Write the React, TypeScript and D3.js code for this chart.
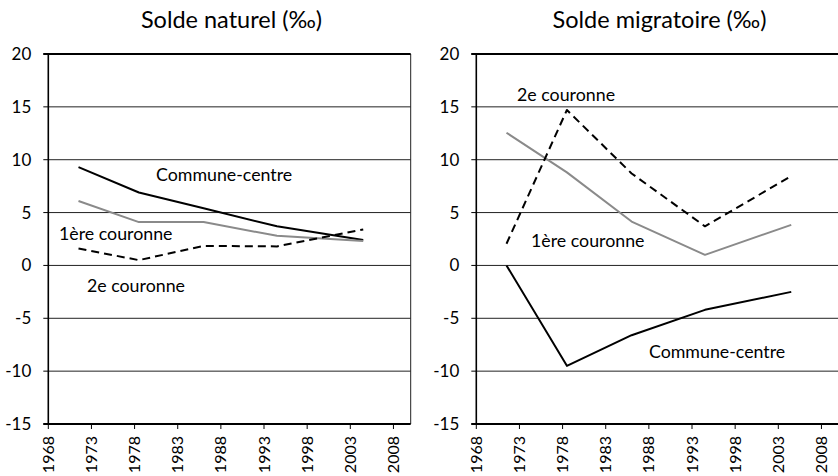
import React from "react";
import * as d3 from "d3";

// Period midpoints (census intervals)
const periods = [1971.5, 1978.5, 1986, 1994.5, 2004.5];

const naturelCentre = [9.3, 6.9, 5.4, 3.7, 2.4];
const naturel1ere = [6.1, 4.1, 4.1, 2.8, 2.3];
const naturel2e = [1.6, 0.5, 1.85, 1.8, 3.4];

const migrCentre = [0, -9.5, -6.6, -4.2, -2.5];
const migr1ere = [12.55, 8.8, 4.15, 1.0, 3.84];
const migr2e = [2.05, 14.7, 8.7, 3.7, 8.45];

const yearTicks = [1968, 1973, 1978, 1983, 1988, 1993, 1998, 2003, 2008];
const valueTicks = [20, 15, 10, 5, 0, -5, -10, -15];

const seriesNames = ["Commune-centre", "1ère couronne", "2e couronne"];

// label anchors in data units: [year, value]
const naturelLabels: [number, number][] = [
  [1980.48, 8.56],
  [1969.24, 2.97],
  [1972.48, -1.95],
];
const migrLabels: [number, number][] = [
  [1988.01, -8.19],
  [1974.34, 2.31],
  [1972.72, 16.12],
];

const FONT = "Lato, 'Open Sans', sans-serif";

type PanelProps = {
  title: string;
  left: number;
  series: number[][];
  labels: [number, number][];
};

const styles = [
  { stroke: "#000", dash: undefined as string | undefined },
  { stroke: "#8a8a8a", dash: undefined as string | undefined },
  { stroke: "#000", dash: "8,5" },
];

function Panel({ title, left, series, labels }: PanelProps) {
  const width = 362.4;
  const x = d3.scaleLinear().domain([1968, 2010]).range([left, left + width]);
  const y = d3.scaleLinear().domain([-15, 20]).range([424, 54]);
  const line = d3
    .line<[number, number]>()
    .x((d) => x(d[0]))
    .y((d) => y(d[1]));

  return (
    <g>
      <text
        x={left + width / 2 + 2}
        y={28}
        textAnchor="middle"
        fontFamily={FONT}
        fontSize={23.5}
        fill="#000"
      >
        {title}
      </text>
      {/* gridlines */}
      {valueTicks
        .filter((v) => v !== 20 && v !== -15)
        .map((v) => (
          <line
            key={"g" + v}
            x1={x(1968)}
            x2={x(2010)}
            y1={y(v)}
            y2={y(v)}
            stroke="#222"
            strokeWidth={1}
          />
        ))}
      {/* frame */}
      <line x1={x(2010)} x2={x(2010)} y1={y(20)} y2={y(-15)} stroke="#222" strokeWidth={1} />
      <line x1={x(1968) - 5} x2={x(2010)} y1={y(20)} y2={y(20)} stroke="#000" strokeWidth={1.8} />
      {/* y ticks */}
      {valueTicks.map((v) => (
        <g key={"yt" + v}>
          <line x1={x(1968) - 5} x2={x(1968)} y1={y(v)} y2={y(v)} stroke="#000" strokeWidth={1} />
          <text
            x={x(1968) - 17}
            y={y(v)}
            dy="0.35em"
            textAnchor="end"
            fontFamily={FONT}
            fontSize={17}
            fill="#000"
          >
            {v}
          </text>
        </g>
      ))}
      {/* x ticks */}
      {yearTicks.map((t) => (
        <g key={"xt" + t}>
          <line x1={x(t)} x2={x(t)} y1={y(-15)} y2={y(-15) + 5} stroke="#000" strokeWidth={1} />
          <text
            transform={`translate(${x(t)},${436}) rotate(-90)`}
            dy="0.35em"
            textAnchor="end"
            fontFamily={FONT}
            fontSize={16}
            fill="#000"
          >
            {t}
          </text>
        </g>
      ))}
      <line x1={x(1968)} x2={x(1968)} y1={y(20)} y2={y(-15)} stroke="#000" strokeWidth={1.6} />
      <line x1={x(1968) - 5} x2={x(2010)} y1={y(-15)} y2={y(-15)} stroke="#000" strokeWidth={2.2} />
      {/* series */}
      {series.map((vals, i) => (
        <path
          key={"s" + i}
          d={line(periods.map((p, j) => [p, vals[j]] as [number, number])) || ""}
          fill="none"
          stroke={styles[i].stroke}
          strokeWidth={2}
          strokeDasharray={styles[i].dash}
          strokeLinejoin="round"
        />
      ))}
      {/* labels */}
      {labels.map((l, i) => (
        <text
          key={"l" + i}
          x={x(l[0])}
          y={y(l[1])}
          dy="0.35em"
          fontFamily={FONT}
          fontSize={17.8}
          fill="#000"
        >
          {seriesNames[i]}
        </text>
      ))}
    </g>
  );
}

export default function App() {
  return (
    <svg
      width={838}
      height={476}
      style={{ position: "absolute", left: 0, top: 0, background: "#fff" }}
    >
      <rect width={838} height={476} fill="#fff" />
      <Panel
        title="Solde naturel (‰)"
        left={48.3}
        series={[naturelCentre, naturel1ere, naturel2e]}
        labels={naturelLabels}
      />
      <Panel
        title="Solde migratoire (‰)"
        left={476.3}
        series={[migrCentre, migr1ere, migr2e]}
        labels={migrLabels}
      />
    </svg>
  );
}
